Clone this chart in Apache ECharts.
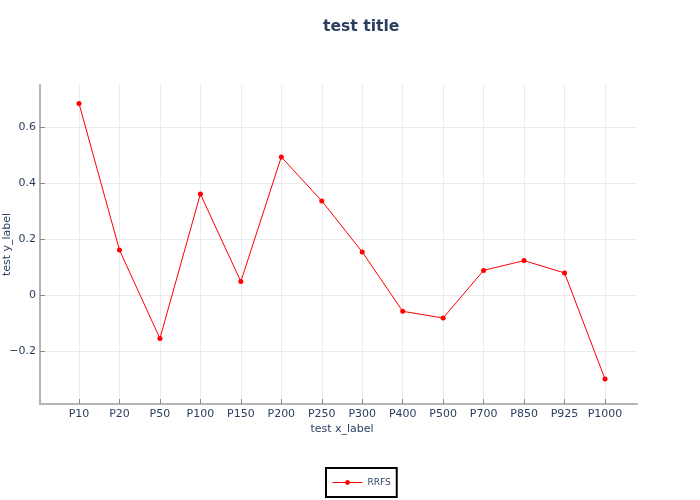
<!DOCTYPE html>
<html>
<head>
<meta charset="utf-8">
<script src="https://cdn.jsdelivr.net/npm/echarts@6/dist/echarts.min.js"></script>
<style>
  body { margin: 0; background: #fff; }
  #chart { width: 700px; height: 500px; }
</style>
</head>
<body>
<div id="chart"></div>
<script>
// 数据
const categories = ['P10', 'P20', 'P50', 'P100', 'P150', 'P200', 'P250', 'P300', 'P400', 'P500', 'P700', 'P850', 'P925', 'P1000'];
const rrfsValues = [0.684, 0.161, -0.155, 0.361, 0.048, 0.493, 0.336, 0.154, -0.058, -0.082, 0.088, 0.123, 0.079, -0.300];
const yMin = -0.389;
const yMax = 0.75;

const textColor = '#2a3f5f';
const fontFamily = 'DejaVu Sans';

const myChart = echarts.init(document.getElementById('chart'));

const option = {
  backgroundColor: '#fff',
  textStyle: { fontFamily: fontFamily },
  title: {
    text: 'test title',
    left: 318,
    top: 14,
    textStyle: { fontSize: 15.6, fontWeight: 'bold', color: textColor, fontFamily: fontFamily }
  },
  legend: {
    data: ['RRFS'],
    left: 326,
    top: 468,
    orient: 'horizontal',
    borderColor: '#000',
    borderWidth: 2,
    padding: [10, 6, 10, 6],
    itemWidth: 30,
    itemHeight: 6,
    lineStyle: { width: 1 },
    textStyle: { fontSize: 9, color: textColor, fontFamily: fontFamily }
  },
  grid: [
    // 外框 + 横向网格
    { left: 40, right: 63, top: 85, bottom: 96, containLabel: false, outerBoundsMode: 'none' },
    // 数据区
    { left: 79, right: 95, top: 85, bottom: 96, containLabel: false, outerBoundsMode: 'none' }
  ],
  xAxis: [
    {
      gridIndex: 0,
      type: 'value',
      min: 0,
      max: 1,
      axisLine: { show: true, onZero: false, lineStyle: { color: '#b4b4b4', width: 2 } },
      axisTick: { show: false },
      axisLabel: { show: false },
      splitLine: { show: false }
    },
    {
      gridIndex: 1,
      type: 'category',
      data: categories,
      boundaryGap: false,
      axisLine: { show: false, onZero: false },
      axisTick: { show: true, inside: true, length: 5, alignWithLabel: true, lineStyle: { color: '#888' } },
      axisLabel: { fontSize: 11, color: textColor, margin: 5, fontFamily: fontFamily, interval: 0 },
      splitLine: { show: true, interval: 0, lineStyle: { color: '#ebebeb', width: 1 } },
      name: 'test x_label',
      nameLocation: 'middle',
      nameGap: 20,
      nameMoveOverlap: false,
      nameTextStyle: { fontSize: 11, color: textColor, fontFamily: fontFamily }
    }
  ],
  yAxis: [
    {
      gridIndex: 0,
      type: 'value',
      min: yMin,
      max: yMax,
      splitNumber: 5,
      axisLine: { show: true, onZero: false, lineStyle: { color: '#b4b4b4', width: 2 } },
      axisTick: { show: true, inside: true, length: 5, lineStyle: { color: '#888' } },
      axisLabel: {
        fontSize: 11,
        color: textColor,
        margin: 4,
        showMinLabel: false,
        showMaxLabel: false,
        fontFamily: fontFamily,
        formatter: function (v) {
          const r = Math.round(v * 10) / 10;
          if (r === 0) return '0';
          return String(r).replace('-', '\u2212');
        }
      },
      splitLine: { show: true, showMinLine: false, showMaxLine: false, lineStyle: { color: '#ebebeb', width: 1 } },
      name: 'test y_label',
      nameLocation: 'middle',
      nameGap: 27,
      nameRotate: 90,
      nameMoveOverlap: false,
      nameTextStyle: { fontSize: 11, color: textColor, fontFamily: fontFamily }
    },
    {
      gridIndex: 1,
      type: 'value',
      min: yMin,
      max: yMax,
      show: false,
      splitLine: { show: false }
    }
  ],
  series: [
    {
      name: 'RRFS',
      type: 'line',
      xAxisIndex: 1,
      yAxisIndex: 1,
      data: rrfsValues,
      symbol: 'circle',
      symbolSize: 5,
      lineStyle: { color: '#ff0000', width: 1 },
      itemStyle: { color: '#ff0000' },
      animation: false
    }
  ],
  animation: false
};

myChart.setOption(option);
</script>
</body>
</html>
